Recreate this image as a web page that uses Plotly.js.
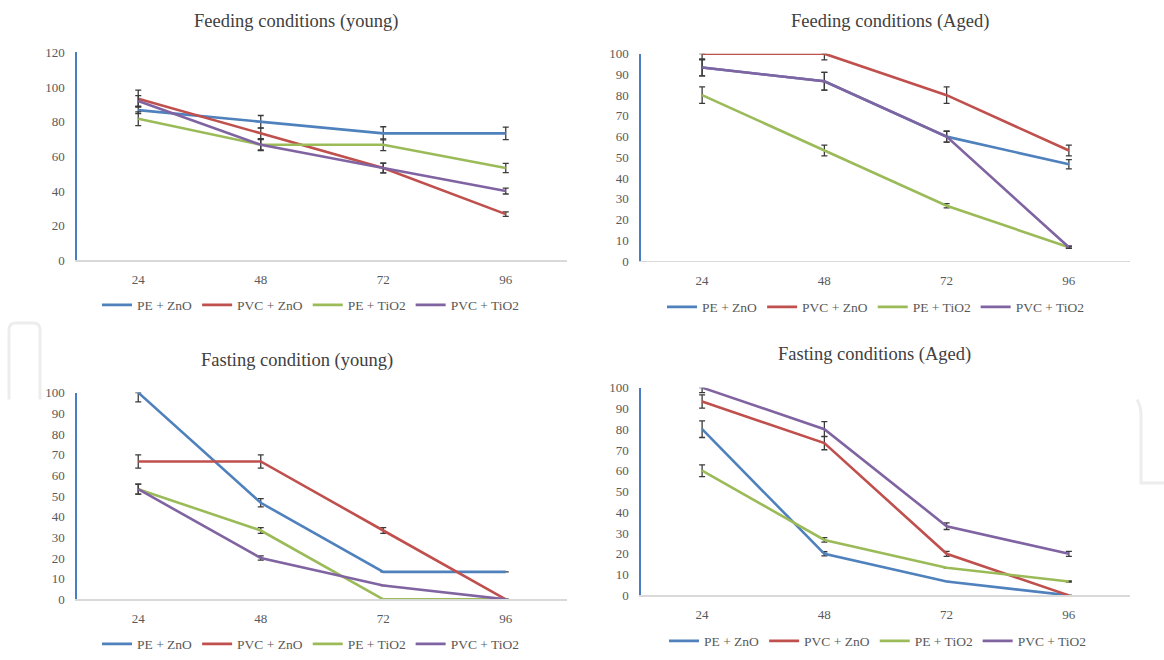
<!DOCTYPE html>
<html>
<head>
<meta charset="utf-8">
<script src="https://cdn.plot.ly/plotly-3.0.1.min.js"></script>
<style>
html,body{margin:0;padding:0;background:#fff;}
#chart{width:1164px;height:660px;}
</style>
</head>
<body>
<div id="chart"></div>
<script>
// ---- data ----
const hours = ['24', '48', '72', '96'];
const seriesNames = ['PE + ZnO', 'PVC + ZnO', 'PE + TiO2', 'PVC + TiO2'];
const seriesColors = ['#4F81BD', '#C0504D', '#9BBB59', '#8064A2'];

const panelTitles = ['Feeding conditions (young)', 'Feeding conditions (Aged)',
                     'Fasting condition (young)', 'Fasting conditions (Aged)'];

// values per series, in seriesNames order
const feedingYoung = [
  [86.7, 80.0, 73.3, 73.3],
  [93.3, 73.3, 53.3, 26.7],
  [81.7, 66.7, 66.7, 53.3],
  [92.0, 66.7, 53.3, 40.0]
];
const feedingYoungErr = [
  [2.0, 3.6, 3.8, 3.6],
  [4.9, 3.0, 2.8, 1.3],
  [4.0, 3.4, 3.4, 2.7],
  [3.0, 3.0, 2.8, 1.7]
];

const feedingAged = [
  [93.3, 86.7, 60.0, 46.7],
  [100, 100, 80.0, 53.3],
  [80.0, 53.3, 26.7, 6.7],
  [93.3, 86.7, 60.0, 6.7]
];
const feedingAgedErr = [
  [4.0, 4.3, 2.6, 2.2],
  [3.0, 3.0, 4.0, 2.6],
  [4.0, 2.6, 1.0, 0.5],
  [4.0, 4.3, 2.6, 0.5]
];

const fastingYoung = [
  [100, 46.7, 13.3, 13.3],
  [66.7, 66.7, 33.3, 0],
  [53.3, 33.3, 0, 0],
  [53.3, 20.0, 6.7, 0]
];
const fastingYoungErr = [
  [4.5, 2.0, 0, 0],
  [3.2, 3.2, 1.4, 0],
  [2.4, 1.4, 0, 0],
  [2.4, 1.0, 0, 0]
];

const fastingAged = [
  [80.0, 20.0, 6.7, 0],
  [93.3, 73.3, 20.0, 0],
  [60.0, 26.7, 13.3, 6.7],
  [100, 80.0, 33.3, 20.0]
];
const fastingAgedErr = [
  [4.0, 1.0, 0, 0],
  [3.2, 3.2, 1.2, 0],
  [2.8, 1.1, 0, 0.3],
  [2.4, 3.6, 1.6, 1.2]
];

const yMaxes = [120, 100, 100, 100];
const yDticks = [20, 10, 10, 10];

// ---- build ----
const panels = [
  {vals: feedingYoung, errs: feedingYoungErr},
  {vals: feedingAged, errs: feedingAgedErr},
  {vals: fastingYoung, errs: fastingYoungErr},
  {vals: fastingAged, errs: fastingAgedErr}
];

const FONT = '"Liberation Serif", serif';
const W = 1164, H = 660;
const px = v => v / W;
const py = v => 1 - v / H;

const traces = [];
panels.forEach((p, pi) => {
  const ax = pi === 0 ? '' : String(pi + 1);
  const lg = pi === 0 ? 'legend' : 'legend' + (pi + 1);
  p.vals.forEach((vals, si) => {
    const errs = p.errs[si];
    traces.push({
      type: 'scatter',
      mode: 'lines',
      x: hours,
      y: vals,
      name: seriesNames[si],
      xaxis: 'x' + ax,
      yaxis: 'y' + ax,
      legend: lg,
      cliponaxis: false,
      line: {color: seriesColors[si], width: 2.6},
      error_y: {
        type: 'data',
        symmetric: false,
        array: errs.map((e, i) => Math.min(e, yMaxes[pi] - vals[i])),
        arrayminus: errs,
        color: '#3a3a3a',
        thickness: 1.3,
        width: 3
      },
      hoverinfo: 'x+y+name'
    });
  });
});

// pixel geometry of the four plot areas
const xDom = [[77, 567], [641, 1130], [77, 567], [641, 1130]];
const yDom = [[52.7, 262], [54, 262.7], [395, 603], [390, 599]];

const layout = {
  width: W, height: H,
  margin: {l: 0, r: 0, t: 0, b: 0},
  paper_bgcolor: '#ffffff',
  plot_bgcolor: 'rgba(0,0,0,0)',
  font: {family: FONT, color: '#595959', size: 13},
  annotations: [],
  shapes: [
    // faint watermark outlines
    {type: 'path', xref: 'paper', yref: 'paper',
     path: `M ${px(9)},${py(402)} L ${px(9)},${py(332)} Q ${px(9)},${py(325)} ${px(16)},${py(325)} L ${px(33)},${py(325)} Q ${px(40)},${py(325)} ${px(40)},${py(332)} L ${px(40)},${py(402)}`,
     line: {color: '#ededed', width: 3}, layer: 'below'},
    {type: 'path', xref: 'paper', yref: 'paper',
     path: `M ${px(1137)},${py(402)} Q ${px(1141)},${py(408)} ${px(1141)},${py(418)} L ${px(1141)},${py(486)} L ${px(1164)},${py(486)}`,
     line: {color: '#ededed', width: 3}, layer: 'below'}
  ]
};

const titlePos = [[296, 22], [890, 22], [297, 363], [874, 357]];
const legendPos = [[311, 307], [876, 309], [311, 648], [878, 645]];

for (let i = 0; i < 4; i++) {
  const s = i === 0 ? '' : String(i + 1);
  layout['xaxis' + s] = {
    domain: [px(xDom[i][0]), px(xDom[i][1])],
    anchor: 'y' + s,
    type: 'category',
    range: [-0.5, 3.5],
    showline: true, linecolor: '#d9d9d9', linewidth: 1.2,
    showgrid: false, zeroline: false, ticks: '',
    ticklabelstandoff: 7,
    tickfont: {family: FONT, size: 13, color: '#595959'},
    fixedrange: true
  };
  layout['yaxis' + s] = {
    domain: [py(yDom[i][1]), py(yDom[i][0])],
    anchor: 'x' + s,
    range: [0, yMaxes[i]],
    dtick: yDticks[i], tick0: 0,
    showline: true, linecolor: '#4A7EC4', linewidth: 1.6,
    showgrid: false, zeroline: false, ticks: '',
    ticklabelstandoff: 8,
    tickfont: {family: FONT, size: 13, color: '#595959'},
    fixedrange: true
  };
  layout.annotations.push({
    text: panelTitles[i],
    xref: 'paper', yref: 'paper',
    x: px(titlePos[i][0]), y: py(titlePos[i][1]),
    xanchor: 'center', yanchor: 'middle',
    showarrow: false,
    font: {family: FONT, size: 18.5, color: '#404040'}
  });
  layout[i === 0 ? 'legend' : 'legend' + (i + 1)] = {
    orientation: 'h',
    x: px(legendPos[i][0]), y: py(legendPos[i][1]),
    xanchor: 'center', yanchor: 'middle',
    bgcolor: 'rgba(0,0,0,0)',
    font: {family: FONT, size: 13.5, color: '#595959'},
    itemwidth: 30,
    traceorder: 'normal'
  };
}

Plotly.newPlot('chart', traces, layout, {displayModeBar: false, staticPlot: true});
</script>
</body>
</html>
